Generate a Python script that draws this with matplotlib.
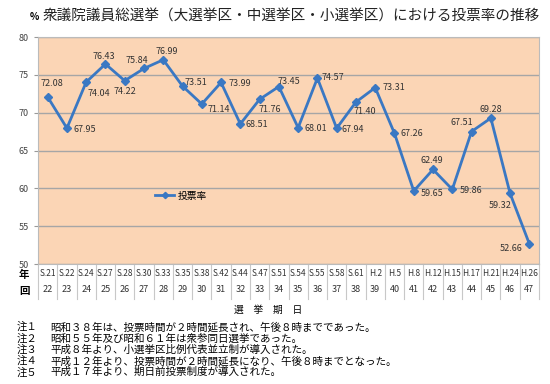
import matplotlib
matplotlib.use("Agg")
import matplotlib.pyplot as plt
import matplotlib.transforms as mtransforms

plt.rcParams['font.family'] = ['Noto Sans CJK JP', 'DejaVu Sans']

# data
years = ["S.21", "S.22", "S.24", "S.27", "S.28", "S.30", "S.33", "S.35", "S.38",
         "S.42", "S.44", "S.47", "S.51", "S.54", "S.55", "S.58", "S.61", "H.2",
         "H.5", "H.8", "H.12", "H.15", "H.17", "H.21", "H.24", "H.26"]
rounds = list(range(22, 48))
turnout = [72.08, 67.95, 74.04, 76.43, 74.22, 75.84, 76.99, 73.51, 71.14, 73.99,
           68.51, 71.76, 73.45, 68.01, 74.57, 67.94, 71.40, 73.31, 67.26, 59.65,
           62.49, 59.86, 67.51, 69.28, 59.32, 52.66]
notes = [
    ("注１", "昭和３８年は、投票時間が２時間延長され、午後８時までであった。"),
    ("注２", "昭和５５年及び昭和６１年は衆参同日選挙であった。"),
    ("注３", "平成８年より、小選挙区比例代表並立制が導入された。"),
    ("注４", "平成１２年より、投票時間が２時間延長になり、午後８時までとなった。"),
    ("注５", "平成１７年より、期日前投票制度が導入された。"),
]

# label offsets (pixels)
offsets = [(4, 13), (18, -1), (13, -11), (-2, 8), (0, -11), (-7, 8), (4, 8),
           (13, 4), (17, -5), (19, -1), (16, -1), (10, -10), (10, 5), (18, -1),
           (15, 1), (16, -1), (9, -9), (19, 0), (17, 0), (18, -3), (-1, 9),
           (19, -1), (-10, 9), (0, 9), (-10, -12), (-18, -5)]

W, H = 550, 384
fig = plt.figure(figsize=(5.5, 3.84), dpi=100)
ax = fig.add_axes([38 / W, 1 - 264 / H, (539 - 38) / W, (264 - 37) / H])
ax.set_facecolor("#FBD5B5")

x = list(range(len(turnout)))
ax.plot(x, turnout, color="#3A78C3", lw=2, marker="D", ms=4, label="投票率", zorder=3)
for xi, v, (dx, dy) in zip(x, turnout, offsets):
    ax.annotate(f"{v:.2f}", (xi, v), xytext=(dx, dy), textcoords="offset pixels",
                ha="center", va="center", fontsize=6.5, color="#333333")

ax.set_xlim(-0.5, len(turnout) - 0.5)
ax.set_ylim(50, 80)
ax.set_yticks(range(50, 81, 5))
ax.tick_params(axis="y", labelsize=6.5, labelcolor="#444444", color="#999999", length=3)
ax.set_xticks([])
ax.grid(axis="y", color="#A6A6A6", lw=1)
ax.set_axisbelow(True)
for s in ax.spines.values():
    s.set_color("#BBBBBB")

ax.legend(loc="center", bbox_to_anchor=(0.285, 0.30), frameon=False, fontsize=7,
          handlelength=2, handletextpad=0.3, markerscale=0.8)

# table below the axes
trans = mtransforms.blended_transform_factory(ax.transData, ax.transAxes)
r1 = -9 / 227
r2 = -26 / 227
bot = -35 / 227
for i in range(len(turnout) + 1):
    ax.plot([i - 0.5, i - 0.5], [0, bot], transform=trans, color="#C8C8C8",
            lw=0.8, clip_on=False)
for i, (yr, rd) in enumerate(zip(years, rounds)):
    ax.text(i, r1, yr, transform=trans, ha="center", va="center", fontsize=6,
            color="#333333")
    ax.text(i, r2, str(rd), transform=trans, ha="center", va="center",
            fontsize=6.5, color="#333333")

fig.text(24 / W, 1 - 275 / H, "年", ha="center", va="center", fontsize=7.5,
         fontweight="bold")
fig.text(24 / W, 1 - 291 / H, "回", ha="center", va="center", fontsize=7.5,
         fontweight="bold")
fig.text(268 / W, 1 - 310 / H, "選　挙　期　日", ha="center", va="center",
         fontsize=7)

# title
fig.text(30 / W, 1 - 17 / H, "%", ha="left", va="center", fontsize=7,
         fontweight="bold")
fig.text(43 / W, 1 - 17 / H,
         "衆議院議員総選挙（大選挙区・中選挙区・小選挙区）における投票率の推移",
         ha="left", va="center", fontsize=10.5, color="#222222")

# notes
for k, (lab, txt) in enumerate(notes):
    yy = 1 - (327 + k * 11.3) / H
    fig.text(17 / W, yy, lab, ha="left", va="center", fontsize=7.5)
    fig.text(50 / W, yy, txt, ha="left", va="center", fontsize=7.6)

fig.savefig("out.png", dpi=100)
